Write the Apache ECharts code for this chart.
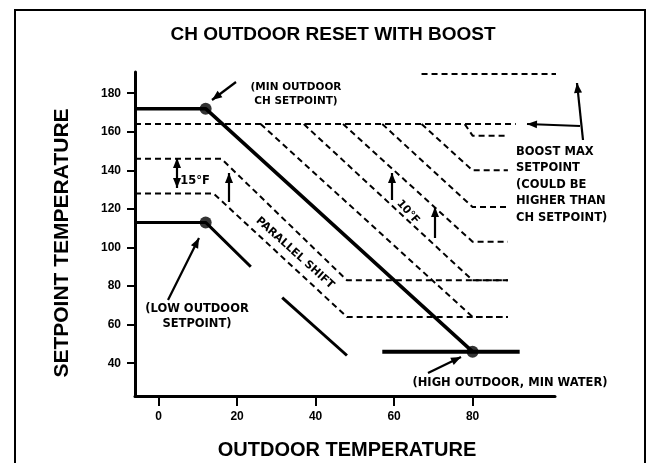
<!DOCTYPE html>
<html>
<head>
<meta charset="utf-8">
<script src="https://cdn.jsdelivr.net/npm/echarts@6/dist/echarts.min.js"></script>
<style>html,body{margin:0;background:#fff}#chart{width:649px;height:463px}</style>
</head>
<body>
<div id="chart"></div>
<script>
// tick labels
const xTicks = [0, 20, 40, 60, 80];
const yTicks = [40, 60, 80, 100, 120, 140, 160, 180];

// CH reset curve (outdoor F, setpoint F)
const chCurve = [[-6, 172], [12, 172], [80, 46]];
const chMinWater = [[57, 46], [92, 46]];
const chPoints = [[12, 172], [80, 46]];

// low outdoor curve, drawn in two pieces
const lowCurveA = [[-6, 113], [12, 113], [23.5, 90]];
const lowCurveB = [[31.5, 74], [48, 44]];
const lowPoints = [[12, 113]];

// parallel shifted curves
const shift1 = [[-6, 128], [14, 128], [48, 64], [89, 64]];
const shift2 = [[-6, 146], [16, 146], [48, 83], [89, 83]];

// boost max lines and boost steps
const boostMax = [[-6, 164], [91, 164]];
const boostHigh = [[67, 190], [115, 190]];
const boostStart = [26, 37, 47, 57, 67, 78];
const boostEnd = [64, 83, 103, 121, 140, 158];
const boostEndX = 80;
const boostRightX = 89;

const BLACK = '#000';
const FONT = '"Liberation Sans", Arial, sans-serif';
const NOTE_FONT = '"DejaVu Sans", sans-serif';

const line = (data, width, dashed) => ({
  type: 'line',
  data,
  showSymbol: false,
  clip: false,
  silent: true,
  lineStyle: { color: BLACK, width, type: dashed ? [6, 4] : 'solid', cap: 'butt', join: 'round' }
});

const dots = data => ({
  type: 'scatter',
  data,
  symbolSize: 12,
  itemStyle: { color: BLACK },
  silent: true
});

const boostSteps = boostStart.map((x, i) =>
  line([[x, boostMax[0][1]], [boostEndX, boostEnd[i]], [boostRightX, boostEnd[i]]], 2, true)
);

// arrow drawn in pixels, head at (x2, y2)
const arrow = (x1, y1, x2, y2, both) => {
  const head = (tx, ty, fx, fy) => {
    const a = Math.atan2(ty - fy, tx - fx);
    const L = 10, W = 4;
    const bx = tx - L * Math.cos(a), by = ty - L * Math.sin(a);
    return {
      type: 'polygon',
      shape: { points: [[tx, ty], [bx - W * Math.sin(a), by + W * Math.cos(a)], [bx + W * Math.sin(a), by - W * Math.cos(a)]] },
      style: { fill: BLACK }
    };
  };
  const els = [{ type: 'line', shape: { x1, y1, x2, y2 }, style: { stroke: BLACK, lineWidth: 2.2 } }, head(x2, y2, x1, y1)];
  if (both) els.push(head(x1, y1, x2, y2));
  return els;
};

const text = (str, x, y, size, opts = {}) => ({
  type: 'text',
  x, y,
  rotation: opts.rotation || 0,
  style: {
    text: str,
    x: 0, y: 0,
    fill: BLACK,
    font: `${opts.weight || 'bold'} ${size}px ${opts.family || NOTE_FONT}`,
    align: opts.align || 'center',
    verticalAlign: 'middle',
    lineHeight: opts.lineHeight || size + 3
  }
});

const chart = echarts.init(document.getElementById('chart'));
chart.setOption({
  animation: false,
  backgroundColor: '#fff',
  grid: { left: 135, right: 94, top: 72, bottom: 67 },
  xAxis: {
    type: 'value',
    min: -6,
    max: 101,
    splitLine: { show: false },
    axisLine: { onZero: false, lineStyle: { color: BLACK, width: 3 } },
    axisTick: { customValues: xTicks, length: 10, lineStyle: { color: BLACK, width: 2 } },
    axisLabel: { customValues: xTicks, margin: 15, color: BLACK, fontSize: 12, fontWeight: 'bold', fontFamily: FONT }
  },
  yAxis: {
    type: 'value',
    min: 23,
    max: 191,
    splitLine: { show: false },
    axisLine: { onZero: false, lineStyle: { color: BLACK, width: 3 } },
    axisTick: { customValues: yTicks, length: 8, lineStyle: { color: BLACK, width: 2 } },
    axisLabel: { customValues: yTicks, margin: 14, color: BLACK, fontSize: 12, fontWeight: 'bold', fontFamily: FONT }
  },
  series: [
    line(boostMax, 2, true),
    line(boostHigh, 2, true),
    ...boostSteps,
    line(shift1, 2, true),
    line(shift2, 2, true),
    line(chCurve, 3.5, false),
    line(chMinWater, 4, false),
    line(lowCurveA, 3, false),
    line(lowCurveB, 3, false),
    dots(chPoints),
    dots(lowPoints)
  ],
  graphic: [
    { type: 'rect', shape: { x: 15, y: 10, width: 630, height: 470 }, style: { fill: 'none', stroke: BLACK, lineWidth: 2 } },
    text('CH OUTDOOR RESET WITH BOOST', 333, 35, 19, { family: FONT }),
    text('SETPOINT TEMPERATURE', 62, 243, 21, { family: FONT, rotation: Math.PI / 2 }),
    text('OUTDOOR TEMPERATURE', 347, 450, 20, { family: FONT }),
    text('(MIN OUTDOOR\nCH SETPOINT)', 296, 94, 10.5, { lineHeight: 14 }),
    text('BOOST MAX\nSETPOINT\n(COULD BE\nHIGHER THAN\nCH SETPOINT)', 516, 185, 11.5, { align: 'left', lineHeight: 16.5 }),
    text('(LOW OUTDOOR\nSETPOINT)', 197, 317, 11.5, { lineHeight: 15 }),
    text('(HIGH OUTDOOR, MIN WATER)', 510, 383, 11.5),
    text('15\u00B0F', 195, 181, 11.5),
    text('PARALLEL SHIFT', 295, 253, 11, { rotation: -42 * Math.PI / 180 }),
    text('10\u00B0F', 408, 212, 11, { rotation: -48 * Math.PI / 180 }),
    ...arrow(236, 82, 212, 100),
    ...arrow(168, 300, 199, 238),
    ...arrow(428, 373, 461, 357),
    ...arrow(583, 140, 577, 83),
    ...arrow(580, 126, 527, 124),
    ...arrow(177, 158, 177, 188, true),
    ...arrow(229, 202, 229, 173),
    ...arrow(392, 200, 392, 173),
    ...arrow(435, 238, 435, 207)
  ]
});
</script>
</body>
</html>
